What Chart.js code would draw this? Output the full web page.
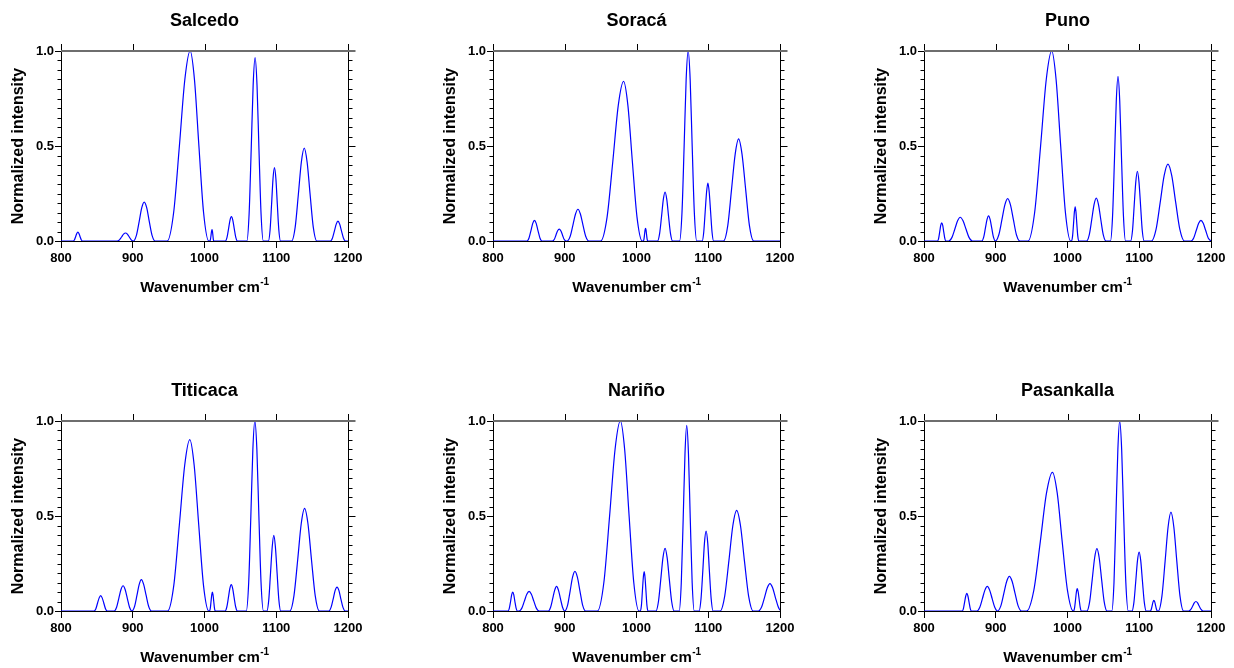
<!DOCTYPE html>
<html>
<head>
<meta charset="utf-8">
<script src="https://cdn.jsdelivr.net/npm/chart.js@4.4.1/dist/chart.umd.min.js"></script>
<style>
  html,body{margin:0;padding:0;background:#fff;overflow:hidden;}
  #page{position:relative;width:1234px;height:668px;}
  .panel{position:absolute;width:371px;height:300px;}
</style>
</head>
<body>
<div id="page"></div>
<script>
const sampleNames = ['Salcedo','Soracá','Puno','Titicaca','Nariño','Pasankalla'];
const xTickValues = [800,900,1000,1100,1200];
const yTickValues = [0,0.5,1];

// [wavenumber, normalized intensity]
const salcedo = [
  [800,0],[817,0],[818.8,0.007],[820.5,0.024],[822,0.04],[823.5,0.047],[825,0.04],[826.5,0.024],[828.2,0.007],[830,0],
  [878,0],[881.4,0.006],[884.4,0.021],[887.2,0.036],[890,0.042],[892.5,0.036],[895.2,0.021],[897.9,0.006],[901,0],
  [905.2,0.031],[909,0.103],[912.5,0.174],[916,0.205],[919.5,0.174],[923,0.103],[926.8,0.031],[931,0],
  [948,0],[957,0.15],[965,0.5],[972.6,0.85],[980,1],[986,0.85],[992.2,0.5],[998.7,0.15],[1006,0],
  [1007.5,0],[1008.3,0.009],[1009.1,0.03],[1009.8,0.051],[1010.5,0.06],[1011.1,0.051],[1011.7,0.03],[1012.3,0.009],[1013,0],
  [1029,0],[1031.4,0.019],[1033.5,0.064],[1035.5,0.109],[1037.5,0.128],[1039.5,0.109],[1041.5,0.064],[1043.6,0.019],[1046,0],
  [1059,0],[1062.2,0.145],[1065.1,0.483],[1067.8,0.82],[1070.5,0.965],[1073.2,0.82],[1075.9,0.483],[1078.8,0.145],[1082,0],
  [1089,0],[1091.4,0.058],[1093.5,0.193],[1095.5,0.328],[1097.5,0.386],[1099.5,0.328],[1101.5,0.193],[1103.6,0.058],[1106,0],
  [1121.5,0],[1126.4,0.073],[1130.8,0.245],[1135,0.416],[1139,0.489],[1143,0.416],[1147.2,0.245],[1151.6,0.073],[1156.5,0],
  [1175.5,0],[1178.4,0.016],[1181.1,0.053],[1183.6,0.089],[1186,0.105],[1188.4,0.089],[1190.9,0.053],[1193.6,0.016],[1196.5,0],[1200,0]
];
const soraca = [
  [800,0],[847.3,0],[850.2,0.016],[852.9,0.055],[855.4,0.093],[857.8,0.109],[860.2,0.093],[862.7,0.055],[865.4,0.016],[868.3,0],
  [882.8,0],[885.5,0.009],[887.8,0.032],[890.1,0.054],[892.3,0.063],[894.5,0.054],[896.8,0.032],[899.1,0.009],[902,0],
  [903.4,0],[907.6,0.025],[911.4,0.084],[915,0.142],[918.4,0.167],[921.8,0.142],[925.4,0.084],[929.2,0.025],[933.4,0],
  [950,0],[959,0.126],[967,0.42],[974.6,0.714],[982,0.84],[988,0.714],[994.2,0.42],[1000.7,0.126],[1008,0],
  [1009.6,0],[1010.4,0.01],[1011.2,0.034],[1011.9,0.057],[1012.6,0.067],[1013.3,0.057],[1014,0.034],[1014.8,0.01],[1015.6,0],
  [1029.3,0],[1032.2,0.039],[1034.9,0.129],[1037.4,0.219],[1039.8,0.258],[1042.2,0.219],[1044.7,0.129],[1047.4,0.039],[1050.3,0],
  [1060,0],[1063.4,0.15],[1066.4,0.5],[1069.2,0.85],[1072,1],[1074.8,0.85],[1077.6,0.5],[1080.6,0.15],[1084,0],
  [1091.5,0],[1093.7,0.046],[1095.7,0.153],[1097.7,0.259],[1099.5,0.305],[1101.3,0.259],[1103.3,0.153],[1105.3,0.046],[1107.5,0],
  [1121.3,0],[1127.2,0.081],[1132.4,0.269],[1137.5,0.456],[1142.3,0.537],[1147.1,0.456],[1152.2,0.269],[1157.4,0.081],[1163.3,0],[1200,0]
];
const puno = [
  [800,0],[818.7,0],[820.4,0.014],[821.9,0.048],[823.3,0.082],[824.7,0.096],[826.1,0.082],[827.5,0.048],[829,0.014],[830.7,0],
  [834.5,0],[839,0.019],[843,0.063],[846.8,0.106],[850.5,0.125],[854.4,0.106],[858.5,0.063],[862.7,0.019],[867.5,0],
  [880.5,0],[883.2,0.02],[885.5,0.066],[887.8,0.112],[890,0.132],[892.2,0.112],[894.5,0.066],[896.8,0.02],[899.5,0],
  [904.3,0.033],[908.6,0.112],[912.7,0.19],[916.6,0.223],[920.5,0.19],[924.6,0.112],[928.8,0.033],[933.6,0],
  [945,0],[954.2,0.15],[962.5,0.5],[970.4,0.85],[978,1],[984.1,0.85],[990.5,0.5],[997.1,0.15],[1004.5,0],
  [1005.7,0],[1007.1,0.027],[1008.4,0.09],[1009.6,0.153],[1010.7,0.18],[1011.8,0.153],[1013,0.09],[1014.3,0.027],[1015.7,0],
  [1026.6,0],[1030.4,0.034],[1033.8,0.113],[1037,0.192],[1040.1,0.226],[1043.2,0.192],[1046.4,0.113],[1049.8,0.034],[1053.6,0],
  [1059.9,0],[1062.8,0.13],[1065.5,0.434],[1068,0.737],[1070.4,0.867],[1072.8,0.737],[1075.3,0.434],[1078,0.13],[1080.9,0],
  [1087.9,0],[1090.6,0.055],[1092.9,0.184],[1095.2,0.312],[1097.4,0.367],[1099.6,0.312],[1101.9,0.184],[1104.2,0.055],[1106.9,0],
  [1117,0],[1123.4,0.061],[1129.2,0.203],[1134.7,0.344],[1140,0.405],[1145.3,0.344],[1150.8,0.203],[1156.6,0.061],[1163,0],
  [1172,0],[1175.9,0.016],[1179.4,0.055],[1182.8,0.093],[1186,0.109],[1189.2,0.093],[1192.6,0.055],[1196.1,0.016],[1200,0]
];
const titicaca = [
  [800,0],[846,0],[848.6,0.012],[850.9,0.041],[853.2,0.069],[855.3,0.081],[857.4,0.069],[859.7,0.041],[862,0.012],[864.6,0],
  [874,0],[877.5,0.02],[880.6,0.067],[883.6,0.113],[886.5,0.133],[889.4,0.113],[892.4,0.067],[895.5,0.02],[899,0],
  [902.6,0.025],[905.9,0.083],[909,0.14],[912,0.165],[915.2,0.14],[918.6,0.083],[922.1,0.025],[926,0],
  [948.5,0],[957.2,0.135],[964.9,0.451],[972.4,0.767],[979.5,0.902],[985.6,0.767],[992,0.451],[998.6,0.135],[1006,0],
  [1007,0],[1008.1,0.015],[1009.1,0.05],[1010.1,0.085],[1011,0.1],[1011.9,0.085],[1012.9,0.05],[1013.9,0.015],[1015,0],
  [1028.7,0],[1031.1,0.021],[1033.3,0.07],[1035.3,0.118],[1037.3,0.139],[1039.3,0.118],[1041.3,0.07],[1043.5,0.021],[1045.9,0],
  [1058.2,0],[1061.6,0.15],[1064.6,0.5],[1067.4,0.85],[1070.2,1],[1073,0.85],[1075.8,0.5],[1078.8,0.15],[1082.2,0],
  [1086.9,0],[1089.6,0.06],[1092,0.199],[1094.4,0.338],[1096.6,0.398],[1098.8,0.338],[1101.2,0.199],[1103.6,0.06],[1106.3,0],
  [1119,0],[1124.7,0.081],[1129.9,0.27],[1134.8,0.459],[1139.5,0.54],[1144.2,0.459],[1149.1,0.27],[1154.3,0.081],[1160,0],
  [1173.2,0],[1176.4,0.019],[1179.3,0.063],[1182,0.107],[1184.7,0.126],[1187.4,0.107],[1190.1,0.063],[1193,0.019],[1196.2,0],[1200,0]
];
const narino = [
  [800,0],[821,0],[822.8,0.015],[824.5,0.05],[826,0.085],[827.5,0.1],[829,0.085],[830.5,0.05],[832.2,0.015],[834,0],
  [836.3,0],[840.2,0.015],[843.7,0.052],[847.1,0.088],[850.3,0.103],[853.5,0.088],[856.9,0.052],[860.4,0.015],[864.3,0],
  [877.1,0],[880.3,0.02],[883.2,0.065],[886,0.11],[888.6,0.13],[891.2,0.11],[894,0.065],[896.9,0.02],[900,0],
  [904,0.031],[907.5,0.105],[910.9,0.178],[914.2,0.209],[917.6,0.178],[921.2,0.105],[924.9,0.031],[929,0],
  [945.5,0],[954.5,0.15],[962.5,0.5],[970.1,0.85],[977.5,1],[983.5,0.85],[989.7,0.5],[996.2,0.15],[1003.5,0],
  [1005.4,0],[1006.9,0.031],[1008.2,0.104],[1009.5,0.176],[1010.7,0.207],[1011.9,0.176],[1013.2,0.104],[1014.5,0.031],[1016,0],
  [1027,0],[1030.6,0.05],[1033.8,0.165],[1036.9,0.281],[1039.8,0.33],[1042.7,0.281],[1045.8,0.165],[1049,0.05],[1052.6,0],
  [1059.5,0],[1062.4,0.147],[1065.1,0.489],[1067.6,0.83],[1070,0.977],[1072.4,0.83],[1074.9,0.489],[1077.6,0.147],[1080.5,0],
  [1087.2,0],[1089.9,0.063],[1092.4,0.21],[1094.7,0.357],[1097,0.42],[1099.3,0.357],[1101.6,0.21],[1104.1,0.063],[1106.8,0],
  [1116.6,0],[1123,0.08],[1128.8,0.265],[1134.3,0.45],[1139.6,0.53],[1144.9,0.45],[1150.4,0.265],[1156.2,0.08],[1162.6,0],
  [1170,0],[1174.5,0.022],[1178.5,0.072],[1182.3,0.122],[1186,0.144],[1189.7,0.122],[1193.5,0.072],[1197.5,0.022],[1200,0.004]
];
const pasankalla = [
  [800,0],[853.2,0],[855,0.014],[856.6,0.047],[858.2,0.079],[859.7,0.093],[861.2,0.079],[862.8,0.047],[864.4,0.014],[866.2,0],
  [873.7,0],[877.8,0.02],[881.4,0.065],[884.9,0.11],[888.2,0.13],[891.5,0.11],[895,0.065],[898.6,0.02],[902.5,0],
  [907.1,0.027],[911.2,0.091],[915.2,0.155],[919,0.182],[922.9,0.155],[927,0.091],[931.2,0.027],[936,0],
  [943,0],[953.1,0.11],[962.1,0.365],[970.7,0.62],[979,0.73],[985.7,0.62],[992.6,0.365],[999.9,0.11],[1008,0],
  [1008.5,0],[1009.9,0.018],[1011.2,0.059],[1012.4,0.1],[1013.5,0.118],[1014.9,0.1],[1016.3,0.059],[1017.8,0.018],[1019.5,0],
  [1027,0],[1030.9,0.049],[1034.4,0.164],[1037.8,0.279],[1041,0.328],[1044.2,0.279],[1047.6,0.164],[1051.1,0.049],[1055,0],
  [1061.7,0],[1064.8,0.15],[1067.5,0.5],[1070.2,0.85],[1072.7,1],[1075.5,0.85],[1078.3,0.5],[1081.3,0.15],[1084.7,0],
  [1089.8,0],[1092.6,0.047],[1095.1,0.155],[1097.5,0.264],[1099.8,0.31],[1102.1,0.264],[1104.5,0.155],[1107,0.047],[1109.8,0],
  [1115.2,0],[1116.7,0.008],[1118,0.028],[1119.2,0.048],[1120.4,0.056],[1121.6,0.048],[1122.8,0.028],[1124.1,0.008],[1125.6,0],
  [1126.7,0],[1131.6,0.078],[1136,0.26],[1140.2,0.442],[1144.2,0.52],[1148.2,0.442],[1152.4,0.26],[1156.8,0.078],[1161.7,0],
  [1169,0],[1171.8,0.008],[1174.3,0.025],[1176.7,0.043],[1179,0.05],[1181.3,0.043],[1183.7,0.025],[1186.2,0.008],[1189,0],[1200,0]
];
const spectra = [salcedo, soraca, puno, titicaca, narino, pasankalla];

const FONT = "'Liberation Sans', Arial, Helvetica, sans-serif";

// frame pieces the plotting program drew that Chart.js has no option for
const frame = {
  id: 'frame',
  afterDraw(chart, args, opts){
    const {ctx, chartArea:a, scales:{x, y}} = chart;
    const L = a.left + 0.5, R = Math.round(a.right) + 0.5;
    ctx.save();
    ctx.strokeStyle = '#000';
    ctx.lineWidth = 1;
    ctx.beginPath();
    ctx.moveTo(R, a.top); ctx.lineTo(R, a.bottom);
    // minor ticks every 0.05
    for(let i = 1; i < 20; i++){
      if(i === 10) continue;
      const py = Math.round(y.getPixelForValue(i * 0.05)) + 0.5;
      ctx.moveTo(L - 4, py); ctx.lineTo(L, py);
      ctx.moveTo(R, py); ctx.lineTo(R + 4, py);
    }
    const mid = Math.round(y.getPixelForValue(0.5)) + 0.5;
    ctx.moveTo(R, mid); ctx.lineTo(R + 7, mid);
    xTickValues.forEach(v => {
      const px = Math.round(x.getPixelForValue(v)) + 0.5;
      ctx.moveTo(px, a.top); ctx.lineTo(px, a.top - 7);
    });
    ctx.stroke();

    // grey line along 1.0
    ctx.strokeStyle = '#6e6e6e';
    ctx.lineWidth = 2;
    ctx.beginPath();
    const top = Math.round(y.getPixelForValue(1));
    ctx.moveTo(a.left, top); ctx.lineTo(R + 7, top);
    ctx.stroke();

    // panel title
    const cx = (a.left + a.right) / 2;
    ctx.fillStyle = '#000';
    ctx.textAlign = 'center';
    ctx.textBaseline = 'middle';
    ctx.font = `bold 18px ${FONT}`;
    ctx.fillText(opts.title, cx, 21);

    // x axis title with superscript
    ctx.textBaseline = 'alphabetic';
    ctx.textAlign = 'left';
    ctx.font = `bold 15px ${FONT}`;
    const main = 'Wavenumber cm';
    const w1 = ctx.measureText(main).width;
    ctx.font = `bold 10px ${FONT}`;
    const w2 = ctx.measureText('-1').width;
    const x0 = cx - (w1 + w2) / 2;
    ctx.font = `bold 15px ${FONT}`;
    ctx.fillText(main, x0, 292);
    ctx.font = `bold 10px ${FONT}`;
    ctx.fillText('-1', x0 + w1 + 0.5, 285);
    ctx.restore();
  }
};

function makePanel(i){
  const col = i % 3, row = Math.floor(i / 3);
  const div = document.createElement('div');
  div.className = 'panel';
  div.style.left = [0, 432, 863][col] + 'px';
  div.style.top = [0, 370][row] + 'px';
  const canvas = document.createElement('canvas');
  canvas.width = 371; canvas.height = 300;
  div.appendChild(canvas);
  document.getElementById('page').appendChild(div);

  const tickFont = {family: FONT, size: 13, weight: 'bold'};
  return new Chart(canvas, {
    type: 'line',
    data: { datasets: [{
      data: spectra[i].map(([x, y]) => ({x, y})),
      borderColor: '#0000ff', borderWidth: 1.2, pointRadius: 0,
      cubicInterpolationMode: 'monotone', fill: false
    }]},
    options: {
      responsive: false,
      animation: false,
      layout: { padding: {top: 51, right: 23, left: 0, bottom: 0} },
      plugins: { legend: {display: false}, tooltip: {enabled: false}, frame: {title: sampleNames[i]} },
      scales: {
        x: {
          type: 'linear', position: 'bottom', min: 800, max: 1200,
          afterBuildTicks: s => { s.ticks = xTickValues.map(v => ({value: v})); },
          ticks: { color: '#000', font: tickFont, padding: 3, maxRotation: 0, autoSkip: false, callback: v => String(v) },
          grid: { drawOnChartArea: false, tickLength: 7, tickColor: '#000' },
          border: { color: '#000', width: 1 },
          afterFit: s => { s.height = 59; }
        },
        y: {
          type: 'linear', position: 'left', min: 0, max: 1,
          afterBuildTicks: s => { s.ticks = yTickValues.map(v => ({value: v})); },
          ticks: { color: '#000', font: tickFont, padding: 1, callback: v => v.toFixed(1) },
          grid: { drawOnChartArea: false, tickLength: 6, tickColor: '#000' },
          border: { color: '#000', width: 1 },
          title: { display: true, text: 'Normalized intensity', color: '#000',
                   font: {family: FONT, size: 16, weight: 'bold'}, padding: {top: 9, bottom: 0} },
          afterFit: s => { s.width = 61; }
        }
      }
    },
    plugins: [frame]
  });
}

spectra.forEach((_, i) => makePanel(i));
</script>
</body>
</html>
